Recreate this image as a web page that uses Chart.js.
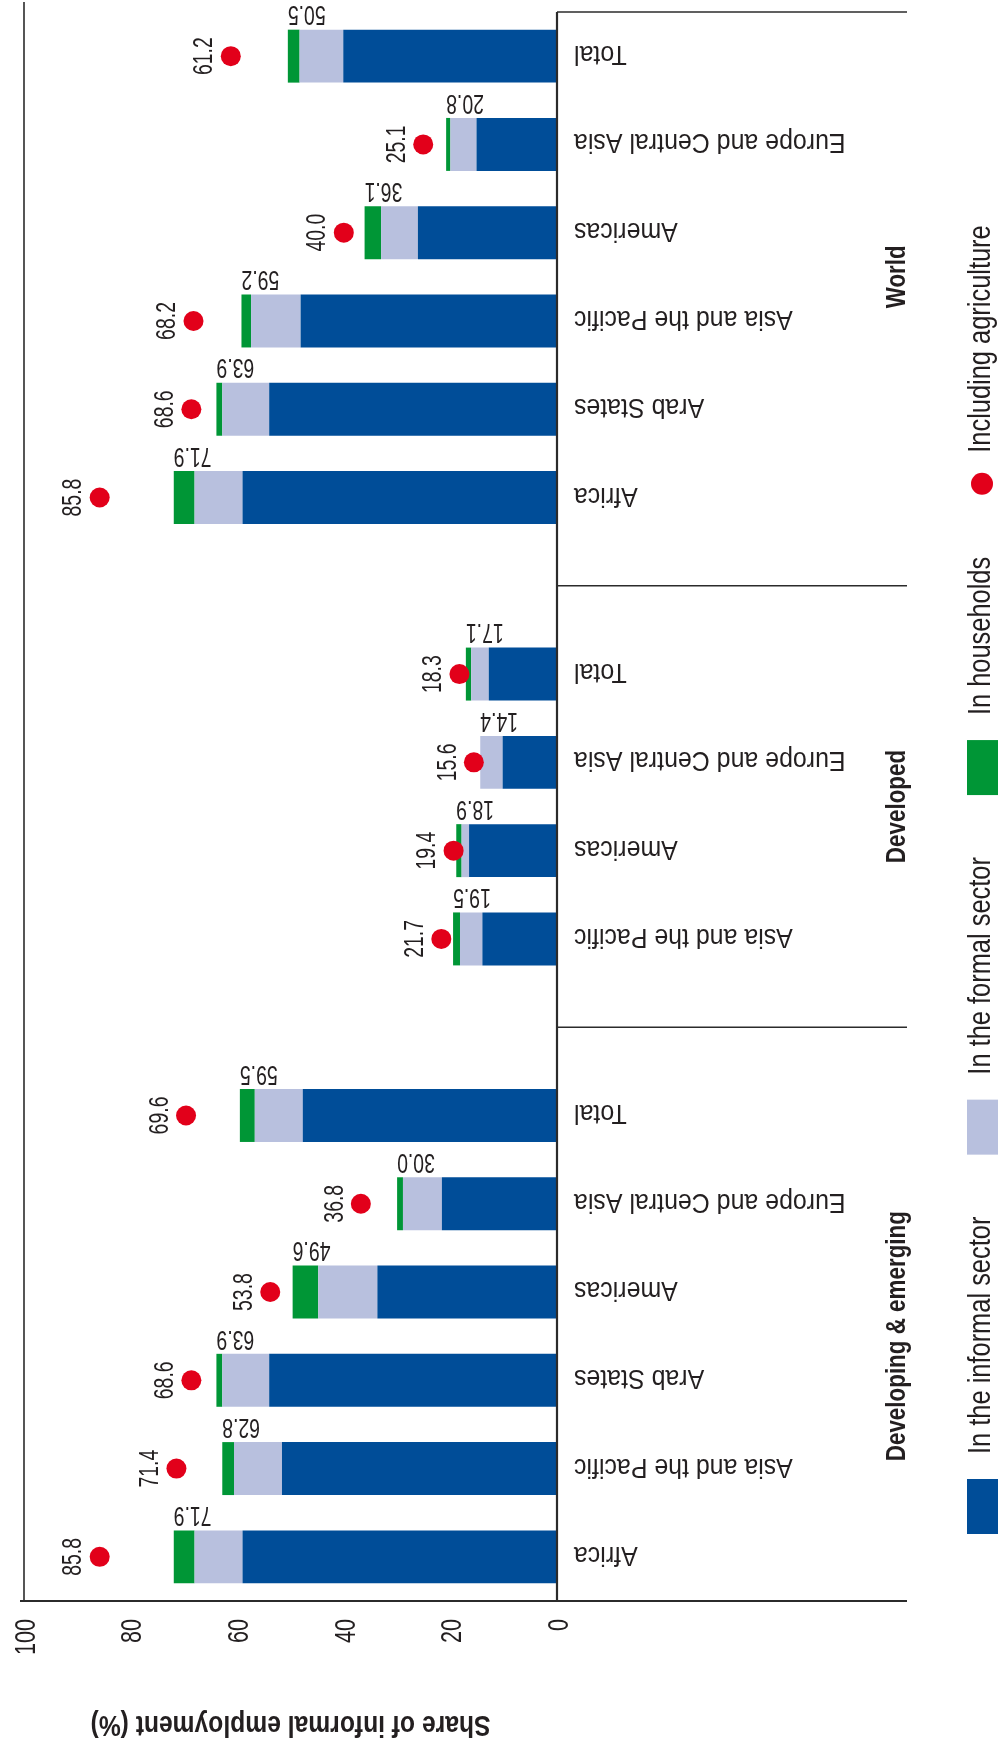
<!DOCTYPE html>
<html>
<head>
<meta charset="utf-8">
<script src="https://cdn.jsdelivr.net/npm/chart.js@4.4.1/dist/chart.umd.min.js"></script>
<style>
  html, body { margin: 0; padding: 0; background: #fff; }
  #wrap { position: relative; width: 999px; height: 1758px; }
</style>
</head>
<body>
<div id="wrap"><canvas id="chart" width="999" height="1758"></canvas></div>
<script>
// categories top to bottom, '' = gap between groups
const categories = [
  'Total', 'Europe and Central Asia', 'Americas', 'Asia and the Pacific', 'Arab States', 'Africa',
  '',
  'Total', 'Europe and Central Asia', 'Americas', 'Asia and the Pacific',
  '',
  'Total', 'Europe and Central Asia', 'Americas', 'Arab States', 'Asia and the Pacific', 'Africa'
];
const groupNames = ['World', 'Developed', 'Developing & emerging'];
const groupFirst = [0, 7, 12];
const groupLast = [5, 10, 17];

const informal   = [40.1, 15.1, 26.1, 48.1, 54.0, 59.0, null, 12.8, 10.2, 16.5, 14.0, null, 47.7, 21.6, 33.7, 54.0, 51.6, 59.0];
const formal     = [8.2, 4.9, 6.9, 9.3, 8.8, 9.0, null, 3.3, 4.2, 1.4, 4.2, null, 9.0, 7.3, 11.1, 8.8, 9.0, 9.0];
const households = [2.2, 0.8, 3.1, 1.8, 1.1, 3.9, null, 1.0, 0.0, 1.0, 1.3, null, 2.8, 1.1, 4.8, 1.1, 2.2, 3.9];
const totals     = [50.5, 20.8, 36.1, 59.2, 63.9, 71.9, null, 17.1, 14.4, 18.9, 19.5, null, 59.5, 30.0, 49.6, 63.9, 62.8, 71.9];
const agriculture = [61.2, 25.1, 40.0, 68.2, 68.6, 85.8, null, 18.3, 15.6, 19.4, 21.7, null, 69.6, 36.8, 53.8, 68.6, 71.4, 85.8];
const valueTicks = [0, 20, 40, 60, 80, 100];

const seriesNames = ['In the informal sector', 'In the formal sector', 'In households', 'Including agriculture'];
const colors = ['#004d98', '#b8c0de', '#009636', '#e2001a'];
const axisTitle = 'Share of informal employment (%)';

const INK = '#231f20';
const FONT = "'Liberation Sans', Arial, sans-serif";

function txt(ctx, s, x, y, rot, align, font, sx) {
  ctx.save();
  ctx.translate(x, y);
  ctx.rotate(rot);
  ctx.scale(sx, 1);
  ctx.font = font;
  ctx.textAlign = align;
  ctx.textBaseline = 'alphabetic';
  ctx.fillStyle = INK;
  ctx.fillText(s, 0, 0);
  ctx.restore();
}

function line(ctx, x1, y1, x2, y2, w) {
  ctx.save();
  ctx.strokeStyle = '#2b2b2b';
  ctx.lineWidth = w;
  ctx.beginPath();
  ctx.moveTo(x1, y1);
  ctx.lineTo(x2, y2);
  ctx.stroke();
  ctx.restore();
}

const decor = {
  id: 'decor',
  afterDatasetsDraw(chart) {
    const ctx = chart.ctx;
    const xs = chart.scales.x, ys = chart.scales.y;
    const area = chart.chartArea;
    const x0 = xs.getPixelForValue(0);
    const rightEnd = 907;

    // frame lines
    line(ctx, xs.getPixelForValue(100), 2, xs.getPixelForValue(100), area.bottom, 1.6);
    line(ctx, x0, area.top, x0, area.bottom, 2.2);
    line(ctx, 20, area.bottom, rightEnd, area.bottom, 2);
    line(ctx, x0, area.top, rightEnd, area.top, 1.6);
    categories.forEach((c, i) => {
      if (c === '') {
        const y = ys.getPixelForValue(i);
        line(ctx, x0, y, rightEnd, y, 1.6);
      }
    });

    // value ticks, reading upward
    const tickFont = '30px ' + FONT, tickCap = 21.5;
    valueTicks.forEach(v => {
      txt(ctx, String(v), xs.getPixelForValue(v) + tickCap / 2, area.bottom + 18, -Math.PI / 2, 'right', tickFont, 0.72);
    });

    // axis title, upside down
    txt(ctx, axisTitle, (xs.getPixelForValue(0) + xs.getPixelForValue(100)) / 2, 1716, Math.PI, 'center', 'bold 29px ' + FONT, 0.85);

    const barMeta = chart.getDatasetMeta(0);
    const numFont = '27px ' + FONT, numCap = 19.3;
    categories.forEach((c, i) => {
      if (c === '') return;
      const cy = ys.getPixelForValue(i);
      // category label, upside down
      txt(ctx, c, x0 + 17, cy - 10, Math.PI, 'right', '28px ' + FONT, 0.89);
      // stacked total above bar
      const bar = barMeta.data[i];
      const top = bar.y - bar.height / 2;
      txt(ctx, totals[i].toFixed(1), xs.getPixelForValue(totals[i]), top - 4 - numCap, Math.PI, 'right', numFont, 0.72);
      // agriculture value next to the dot
      const dx = xs.getPixelForValue(agriculture[i]);
      txt(ctx, agriculture[i].toFixed(1), dx - 28 + numCap / 2, cy, -Math.PI / 2, 'center', numFont, 0.72);
    });

    // group labels
    groupNames.forEach((g, k) => {
      const cy = (ys.getPixelForValue(groupFirst[k]) + ys.getPixelForValue(groupLast[k])) / 2;
      txt(ctx, g, 905, cy, -Math.PI / 2, 'center', 'bold 28px ' + FONT, 0.8);
    });

    // legend, running upward along the right edge
    const legFont = '31px ' + FONT, legCap = 22;
    let y = 1534;
    seriesNames.forEach((name, k) => {
      ctx.save();
      ctx.fillStyle = colors[k];
      if (k < 3) {
        ctx.fillRect(967, y - 55, 31, 55);
        y -= 55 + 25;
      } else {
        ctx.beginPath();
        ctx.arc(982, y - 11, 11, 0, Math.PI * 2);
        ctx.fill();
        y -= 22 + 20;
      }
      ctx.restore();
      ctx.save();
      ctx.font = legFont;
      const w = ctx.measureText(name).width * 0.82;
      ctx.restore();
      txt(ctx, name, 979 + legCap / 2, y, -Math.PI / 2, 'left', legFont, 0.82);
      y -= w + 62;
    });
  }
};

new Chart(document.getElementById('chart'), {
  type: 'bar',
  data: {
    labels: categories,
    datasets: [
      { label: seriesNames[0], data: informal, backgroundColor: colors[0], stack: 'share', order: 2 },
      { label: seriesNames[1], data: formal, backgroundColor: colors[1], stack: 'share', order: 2 },
      { label: seriesNames[2], data: households, backgroundColor: colors[2], stack: 'share', order: 2 },
      {
        type: 'line', label: seriesNames[3], data: agriculture, stack: 'dots', order: 1,
        showLine: false, pointRadius: 10, pointHoverRadius: 10,
        pointBackgroundColor: colors[3], pointBorderWidth: 0, borderColor: colors[3]
      }
    ]
  },
  options: {
    indexAxis: 'y',
    responsive: false,
    animation: false,
    layout: { padding: { left: 24, right: 442, top: 12, bottom: 157 } },
    datasets: { bar: { categoryPercentage: 0.6, barPercentage: 1, borderWidth: 0 } },
    plugins: { legend: { display: false }, tooltip: { enabled: false } },
    scales: {
      x: { type: 'linear', reverse: true, min: 0, max: 100, stacked: true, display: false },
      y: { type: 'category', stacked: true, display: false, offset: true }
    }
  },
  plugins: [decor]
});
</script>
</body>
</html>
